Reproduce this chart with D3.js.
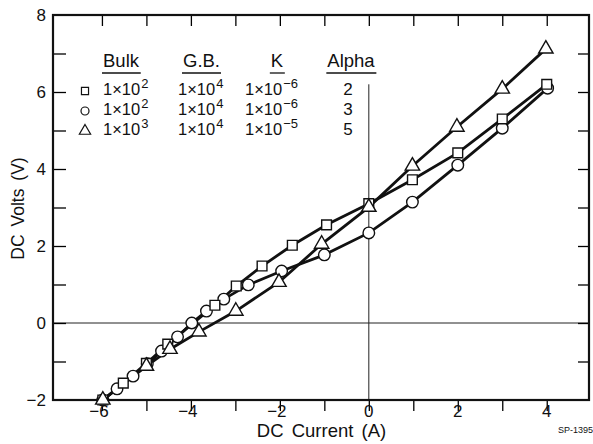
<!DOCTYPE html>
<html>
  <head>
    <meta charset="utf-8" />
    <script src="https://d3js.org/d3.v7.min.js"></script>
    <style>
      body { margin: 0; background: #fff; }
      text { font-family: "Liberation Sans", Arial, sans-serif; fill: #111; }
    </style>
  </head>
  <body>
    <div id="my_dataviz"></div>
    <script>
      // data: [current (A), volts (V)]
      var alpha2 = [[-5.98, -2.0], [-5.52, -1.56], [-5.0, -1.05], [-4.52, -0.55], [-3.46, 0.46],
        [-2.98, 0.96], [-2.4, 1.48], [-1.72, 2.02], [-0.95, 2.55], [0.0, 3.1],
        [0.98, 3.72], [2.0, 4.42], [3.0, 5.3], [4.0, 6.2]];
      var alpha3 = [[-5.98, -2.0], [-5.66, -1.71], [-5.3, -1.38], [-4.98, -1.06], [-4.66, -0.73],
        [-4.3, -0.36], [-3.98, 0.0], [-3.65, 0.31], [-3.26, 0.62], [-2.71, 0.99],
        [-1.96, 1.35], [-1.0, 1.77], [0.0, 2.34], [0.98, 3.14], [2.0, 4.1], [3.0, 5.06], [4.02, 6.1]];
      var alpha5 = [[-5.98, -2.0], [-5.0, -1.12], [-4.47, -0.68], [-3.82, -0.23], [-2.99, 0.31],
        [-2.02, 1.06], [-1.06, 2.05], [0.0, 3.01], [0.98, 4.08], [1.98, 5.09], [3.0, 6.08], [3.98, 7.12]];

      var xTicks = [-6, -4, -2, 0, 2, 4];
      var yTicks = [-2, 0, 2, 4, 6, 8];
      var legendHead = ["Bulk", "G.B.", "K", "Alpha"];
      var legendRows = [
        { sym: "square", bulk: "2", gb: "4", k: "\u22126", alpha: "2" },
        { sym: "circle", bulk: "2", gb: "4", k: "\u22126", alpha: "3" },
        { sym: "triangle", bulk: "3", gb: "4", k: "\u22125", alpha: "5" }
      ];

      var margin = { top: 15, right: 4, bottom: 44, left: 53 },
        width = 593 - margin.left - margin.right,
        height = 444 - margin.top - margin.bottom;

      var svg = d3.select("#my_dataviz")
        .append("svg")
        .attr("width", 593)
        .attr("height", 444)
        .append("g")
        .attr("transform", "translate(" + margin.left + "," + margin.top + ")");

      var x = d3.scaleLinear().domain([-7.1, 4.95]).range([0, width]);
      var y = d3.scaleLinear().domain([-2, 8]).range([height, 0]);

      // zero lines
      svg.append("line")
        .attr("x1", 0).attr("x2", width)
        .attr("y1", y(0)).attr("y2", y(0))
        .attr("stroke", "#222").attr("stroke-width", 1);
      svg.append("line")
        .attr("x1", x(0)).attr("x2", x(0))
        .attr("y1", y(-2)).attr("y2", y(6.2))
        .attr("stroke", "#222").attr("stroke-width", 1);

      // inward ticks on all four sides, every unit
      var tickLen = 11;
      var xAll = d3.range(-6, 5, 1), yAll = d3.range(-1, 8, 1);
      svg.append("g").call(d3.axisTop(x).tickValues(xAll).tickSize(-tickLen).tickFormat(""))
        .attr("transform", "translate(0," + height + ")")
        .call(function (g) { g.select(".domain").remove(); })
        .selectAll("line").attr("stroke-width", 1.3);
      svg.append("g").call(d3.axisBottom(x).tickValues(xAll).tickSize(tickLen).tickFormat(""))
        .call(function (g) { g.select(".domain").remove(); })
        .selectAll("line").attr("stroke-width", 1.3);
      svg.append("g").call(d3.axisRight(y).tickValues(yAll).tickSize(tickLen + 2).tickFormat(""))
        .call(function (g) { g.select(".domain").remove(); })
        .selectAll("line").attr("stroke-width", 1.3);
      svg.append("g").call(d3.axisLeft(y).tickValues(yAll).tickSize(tickLen).tickFormat(""))
        .attr("transform", "translate(" + width + ",0)")
        .call(function (g) { g.select(".domain").remove(); })
        .selectAll("line").attr("stroke-width", 1.3);

      // frame
      svg.append("rect")
        .attr("width", width).attr("height", height)
        .attr("fill", "none").attr("stroke", "#111").attr("stroke-width", 2.2);

      // tick labels
      svg.selectAll(".xl").data(xTicks).enter().append("text")
        .attr("x", function (d) { return x(d) - (d < 0 ? 3 : 0); })
        .attr("y", height + 17)
        .attr("text-anchor", "middle")
        .style("font-size", "17px")
        .text(function (d) { return d < 0 ? "\u2212" + Math.abs(d) : d; });
      svg.selectAll(".yl").data(yTicks).enter().append("text")
        .attr("x", -7)
        .attr("y", function (d) { return y(d) + 6; })
        .attr("text-anchor", "end")
        .style("font-size", "17px")
        .text(function (d) { return d < 0 ? "\u2212" + Math.abs(d) : d; });

      // axis titles
      svg.append("text")
        .attr("x", 321.5 - margin.left).attr("y", height + 37)
        .attr("text-anchor", "middle")
        .style("font-size", "18.5px")
        .style("word-spacing", "3px")
        .text("DC Current  (A)");
      svg.append("text")
        .attr("transform", "translate(-29," + (y(3) + 1) + ") rotate(-90)")
        .attr("text-anchor", "middle")
        .style("font-size", "17.5px")
        .style("word-spacing", "3px")
        .text("DC Volts  (V)");
      svg.append("text")
        .attr("x", width + 4).attr("y", height + 33)
        .attr("text-anchor", "end")
        .style("font-size", "9px")
        .text("SP-1395");

      // series
      var symbols = { square: d3.symbolSquare, circle: d3.symbolCircle, triangle: d3.symbolTriangle };
      var line = d3.line().x(function (d) { return x(d[0]); }).y(function (d) { return y(d[1]); });
      var series = [
        { data: alpha3, sym: "circle", size: 105 },
        { data: alpha2, sym: "square", size: 95 },
        { data: alpha5, sym: "triangle", size: 90 }
      ];
      series.forEach(function (s) {
        svg.append("path").datum(s.data)
          .attr("d", line)
          .attr("fill", "none").attr("stroke", "#111").attr("stroke-width", 2.8);
      });
      series.forEach(function (s) {
        svg.selectAll(null).data(s.data).enter().append("path")
          .attr("transform", function (d) { return "translate(" + x(d[0]) + "," + y(d[1]) + ")"; })
          .attr("d", d3.symbol().type(symbols[s.sym]).size(s.size))
          .attr("fill", "#fff").attr("stroke", "#111").attr("stroke-width", 1.4);
      });

      // legend table (page coordinates)
      var lg = svg.append("g").attr("transform", "translate(" + (-margin.left) + "," + (-margin.top) + ")");
      var headX = [103, 183, 277, 351];
      var headY = 67;
      legendHead.forEach(function (h, i) {
        var t = lg.append("text")
          .attr("x", headX[i])
          .attr("y", headY)
          .attr("text-anchor", i < 2 ? "start" : "middle")
          .style("font-size", "18.5px")
          .text(h);
        var bb = t.node().getBBox();
        lg.append("line")
          .attr("x1", bb.x - 1).attr("x2", bb.x + bb.width + 1)
          .attr("y1", headY + 6).attr("y2", headY + 6)
          .attr("stroke", "#111").attr("stroke-width", 1.3);
      });
      function power(g, px, py, base, sup) {
        var t = g.append("text").attr("x", px).attr("y", py).style("font-size", "16.5px");
        t.append("tspan").text(base);
        t.append("tspan").attr("dy", -7).attr("dx", 1).style("font-size", "13px").text(sup);
      }
      legendRows.forEach(function (r, i) {
        var ry = 95 + i * 20;
        lg.append("path")
          .attr("transform", "translate(85," + (ry - 4) + ")")
          .attr("d", d3.symbol().type(symbols[r.sym]).size(r.sym === "triangle" ? 55 : 50))
          .attr("fill", "#fff").attr("stroke", "#111").attr("stroke-width", 1.2);
        power(lg, 103, ry, "1\u00d710", r.bulk);
        power(lg, 178, ry, "1\u00d710", r.gb);
        power(lg, 245, ry, "1\u00d710", r.k);
        lg.append("text").attr("x", 348).attr("y", ry)
          .attr("text-anchor", "middle").style("font-size", "17px").text(r.alpha);
      });
    </script>
  </body>
</html>
